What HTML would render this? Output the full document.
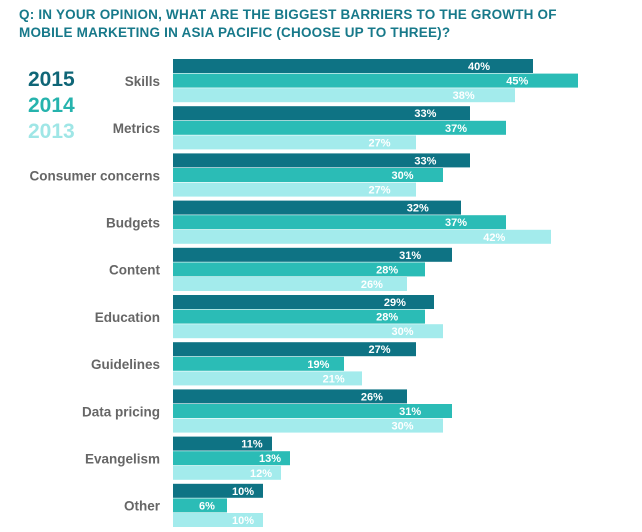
<!DOCTYPE html>
<html><head><meta charset="utf-8"><style>
body{margin:0;background:#fff;font-family:"Liberation Sans",sans-serif}
#wrap{position:relative;width:642px;height:532px;overflow:hidden}
.t{position:absolute;left:19px;top:6px;font-size:13.5px;font-weight:bold;color:#17798a;line-height:18px;letter-spacing:0.2px}
.yr{position:absolute;left:28px;font-size:21px;font-weight:bold}
</style></head><body>
<div id="wrap">
<div class="t">Q: IN YOUR OPINION, WHAT ARE THE BIGGEST BARRIERS TO THE GROWTH OF<br>MOBILE MARKETING IN ASIA PACIFIC (CHOOSE UP TO THREE)?</div>
<div class="yr" style="top:68px;color:#0f6677">2015</div>
<div class="yr" style="top:94px;color:#26b3ad">2014</div>
<div class="yr" style="top:120px;color:#9fe6e6">2013</div>
<svg id="svg" width="642" height="532" style="position:absolute;left:0;top:0"></svg>
</div>
<script>
const categories=["Skills","Metrics","Consumer concerns","Budgets","Content","Education","Guidelines","Data pricing","Evangelism","Other"];
const v2015=[40,33,33,32,31,29,27,26,11,10];
const v2014=[45,37,30,37,28,28,19,31,13,6];
const v2013=[38,27,27,42,26,30,21,30,12,10];
const series=[v2015,v2014,v2013];
const colors=["#0e7384","#2bbcb6","#a3ebec"];
const x0=173,pxPer=9,gTop=59,gPitch=47.2,bPitch=14.6,bH=14;
const xs=v=>x0+v*pxPer;
const svg=document.getElementById('svg');
const NS="http://www.w3.org/2000/svg";
categories.forEach((c,i)=>{
  const gy=gTop+i*gPitch;
  const t=document.createElementNS(NS,'text');
  
  
  t.setAttribute('x',160);t.setAttribute('y',gy+bPitch*1.5+5);
  t.setAttribute('text-anchor','end');t.setAttribute('font-size','13.5');t.setAttribute('font-weight','bold');t.setAttribute('fill','#666');
  t.setAttribute('font-family','Liberation Sans, sans-serif');
  t.textContent=c;svg.appendChild(t);
  series.forEach((s,j)=>{
    const y=gy+j*bPitch;
    const r=document.createElementNS(NS,'rect');
    
    
    r.setAttribute('x',x0);r.setAttribute('y',y);r.setAttribute('width',xs(s[i])-x0);r.setAttribute('height',bH);r.setAttribute('fill',colors[j]);
    svg.appendChild(r);
    const l=document.createElementNS(NS,'text');
    
    
    let cx=xs(s[i])-Math.max(20,(xs(s[i])-x0)*0.15);
    l.setAttribute('x',cx);l.setAttribute('y',y+11);l.setAttribute('text-anchor','middle');
    l.setAttribute('font-size','11');l.setAttribute('font-weight','bold');l.setAttribute('fill','#fff');
    l.setAttribute('font-family','Liberation Sans, sans-serif');
    l.textContent=s[i]+'%';svg.appendChild(l);
  });
});
</script>
</body></html>
